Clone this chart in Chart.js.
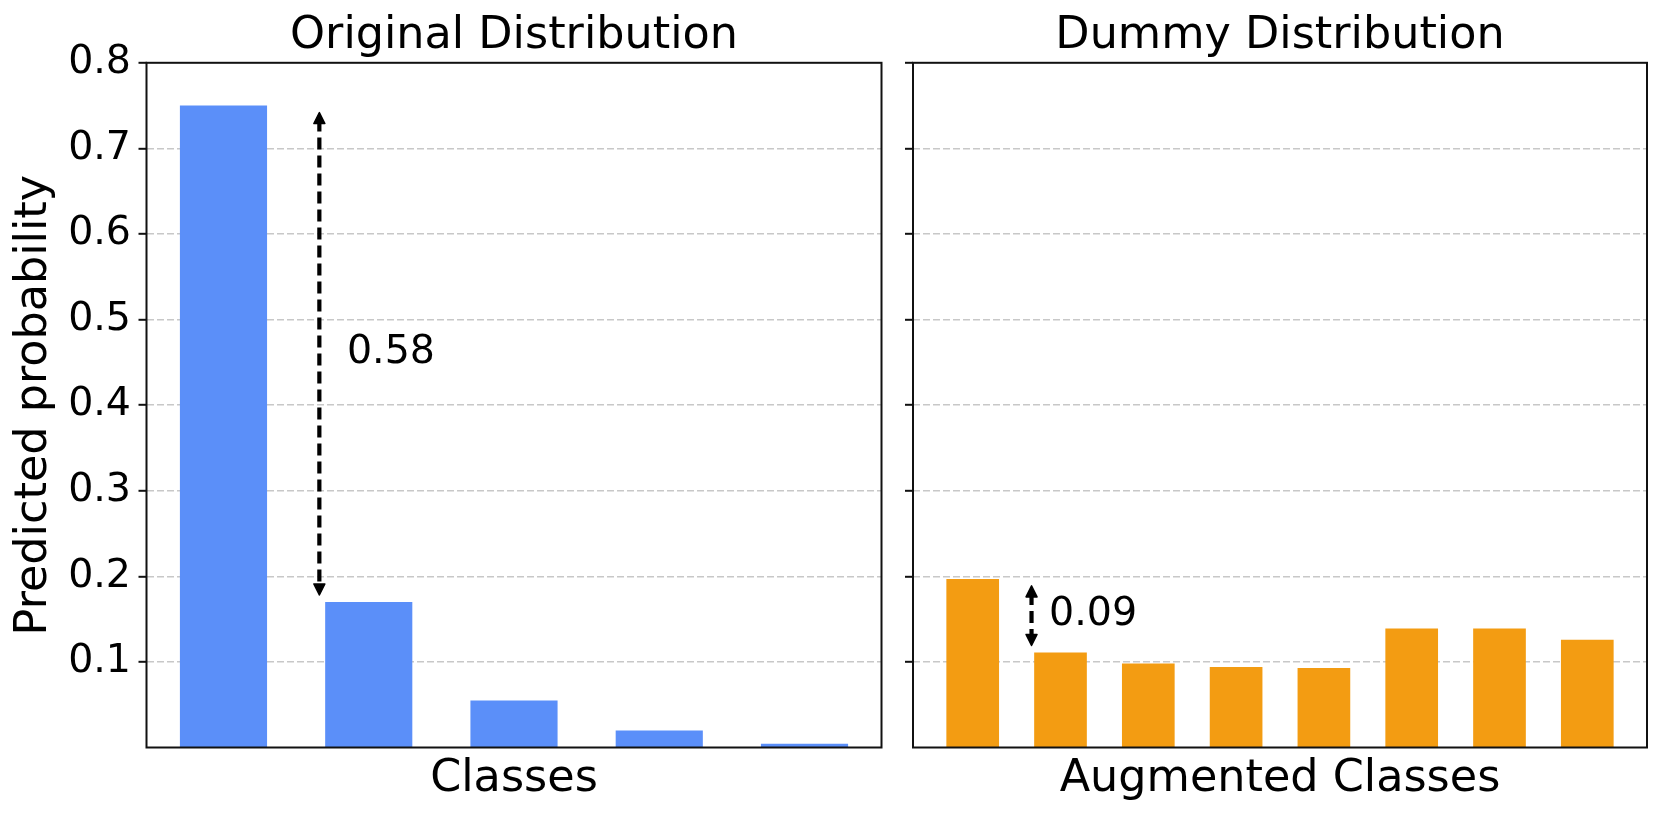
<!DOCTYPE html>
<html>
<head>
<meta charset="utf-8">
<script src="https://cdn.jsdelivr.net/npm/chart.js@4.4.1/dist/chart.umd.min.js"></script>
<style>
  html, body { margin: 0; padding: 0; background: #fff; }
  #wrap { position: relative; width: 1664px; height: 816px; }
  canvas { position: absolute; top: 0; }
  #left { left: 0; }
  #right { left: 900px; }
</style>
</head>
<body>
<div id="wrap">
  <canvas id="left" width="900" height="816"></canvas>
  <canvas id="right" width="764" height="816"></canvas>
</div>
<script>
// Bar values
const originalProbs = [0.75, 0.17, 0.055, 0.02, 0.0045];
const dummyProbs = [0.197, 0.111, 0.098, 0.094, 0.093, 0.139, 0.139, 0.126];
const yTicks = [0.1, 0.2, 0.3, 0.4, 0.5, 0.6, 0.7, 0.8];

// Texts
const titles = ['Original Distribution', 'Dummy Distribution'];
const xTitles = ['Classes', 'Augmented Classes'];
const yTitle = 'Predicted probability';

// Gap annotations: [original, dummy]
const gapX = [0.66, 0.67];
const gapFrom = [0.75, 0.197];
const gapTo = [0.17, 0.111];
const gapLabels = ['0.58', '0.09'];
const gapLabelX = [0.85, 0.87];

const BAR_FRACTION = 0.6;
const FONT = 'DejaVu Sans';

Chart.defaults.font.family = FONT;
Chart.defaults.color = '#000';

// Draw the full axes box
const boxPlugin = {
    id: 'box',
    afterDraw(chart) {
        const { ctx, chartArea: a } = chart;
        ctx.save();
        ctx.lineWidth = 2;
        ctx.strokeStyle = '#111';
        ctx.strokeRect(a.left, a.top, a.right - a.left, a.bottom - a.top);
        ctx.restore();
    }
};

// Dashed double arrow with its label
const gapPlugin = {
    id: 'gap',
    afterDraw(chart, args, opts) {
        const i = opts.index;
        const { ctx, scales: { x, y } } = chart;
        const px = x.getPixelForValue(gapX[i]);
        const top = y.getPixelForValue(gapFrom[i]) + 7;
        const bottom = y.getPixelForValue(gapTo[i]) - 7;
        ctx.save();
        ctx.strokeStyle = '#000';
        ctx.fillStyle = '#000';
        ctx.lineWidth = 4.2;
        ctx.setLineDash([12, 6]);
        ctx.beginPath();
        ctx.moveTo(px, top + 7);
        ctx.lineTo(px, bottom - 7);
        ctx.stroke();
        ctx.setLineDash([]);
        ctx.lineJoin = 'round';
        ctx.lineWidth = 1.5;
        ctx.beginPath();
        ctx.moveTo(px, top);
        ctx.lineTo(px - 5.5, top + 11);
        ctx.lineTo(px + 5.5, top + 11);
        ctx.closePath();
        ctx.fill();
        ctx.stroke();
        ctx.beginPath();
        ctx.moveTo(px, bottom);
        ctx.lineTo(px - 5.5, bottom - 11);
        ctx.lineTo(px + 5.5, bottom - 11);
        ctx.closePath();
        ctx.fill();
        ctx.stroke();
        ctx.font = `39.5px "${FONT}"`;
        ctx.textAlign = 'left';
        ctx.textBaseline = 'middle';
        const ty = y.getPixelForValue((gapFrom[i] + gapTo[i]) / 2) - 1;
        ctx.fillText(gapLabels[i], x.getPixelForValue(gapLabelX[i]), ty);
        ctx.restore();
    }
};

const makeChart = (canvasId, values, color, idx, showY, yWidth, padRight) => {
    const n = values.length;
    const margin = 0.05 * (n - 1 + BAR_FRACTION);
    return new Chart(document.getElementById(canvasId), {
        type: 'bar',
        data: {
            datasets: [{
                data: values.map((v, i) => ({ x: i, y: v })),
                backgroundColor: color,
                borderWidth: 0,
                categoryPercentage: 1,
                barPercentage: BAR_FRACTION
            }]
        },
        options: {
            responsive: false,
            animation: false,
            devicePixelRatio: 1,
            layout: { padding: { left: 0, right: padRight, top: 0, bottom: 0 } },
            plugins: {
                legend: { display: false },
                tooltip: { enabled: false },
                title: {
                    display: true,
                    text: titles[idx],
                    fullSize: false,
                    color: '#000',
                    font: { size: 44.5, weight: 'normal' },
                    padding: { top: 9.4, bottom: 0 }
                },
                gap: { index: idx }
            },
            scales: {
                x: {
                    type: 'linear',
                    offset: false,
                    min: -BAR_FRACTION / 2 - margin,
                    max: n - 1 + BAR_FRACTION / 2 + margin,
                    afterBuildTicks: (axis) => {
                        axis.ticks = values.map((_, i) => ({ value: i }));
                    },
                    ticks: { display: false },
                    grid: { display: false },
                    border: { display: false },
                    title: {
                        display: true,
                        text: xTitles[idx],
                        color: '#000',
                        font: { size: 44.5 },
                        padding: { top: 0, bottom: 10 }
                    },
                    afterFit: (axis) => { axis.height = 68.5; }
                },
                y: {
                    min: 0,
                    max: 0.8,
                    z: 1,
                    afterBuildTicks: (axis) => {
                        axis.ticks = yTicks.map(v => ({ value: v }));
                    },
                    ticks: {
                        display: showY,
                        autoSkip: false,
                        color: '#000',
                        font: { size: 39.5 },
                        padding: 7.5,
                        callback: (v) => v.toFixed(1)
                    },
                    grid: {
                        color: (c) => (c.tick && c.tick.value >= 0.8) ? 'rgba(0,0,0,0)' : '#c8c8c8',
                        lineWidth: 1.6,
                        drawTicks: true,
                        tickLength: 8,
                        tickColor: '#111',
                        tickWidth: 2
                    },
                    border: { display: false, dash: [7, 3] },
                    title: {
                        display: showY,
                        text: yTitle,
                        color: '#000',
                        font: { size: 44.5 },
                        padding: { top: 7.5, bottom: 0 }
                    },
                    afterFit: (axis) => { axis.width = yWidth; }
                }
            }
        },
        plugins: [boxPlugin, gapPlugin]
    });
};

makeChart('left', originalProbs, '#5b8ff9', 0, true, 146.5, 18.5);
makeChart('right', dummyProbs, '#f39c12', 1, false, 13, 17);
</script>
</body>
</html>
